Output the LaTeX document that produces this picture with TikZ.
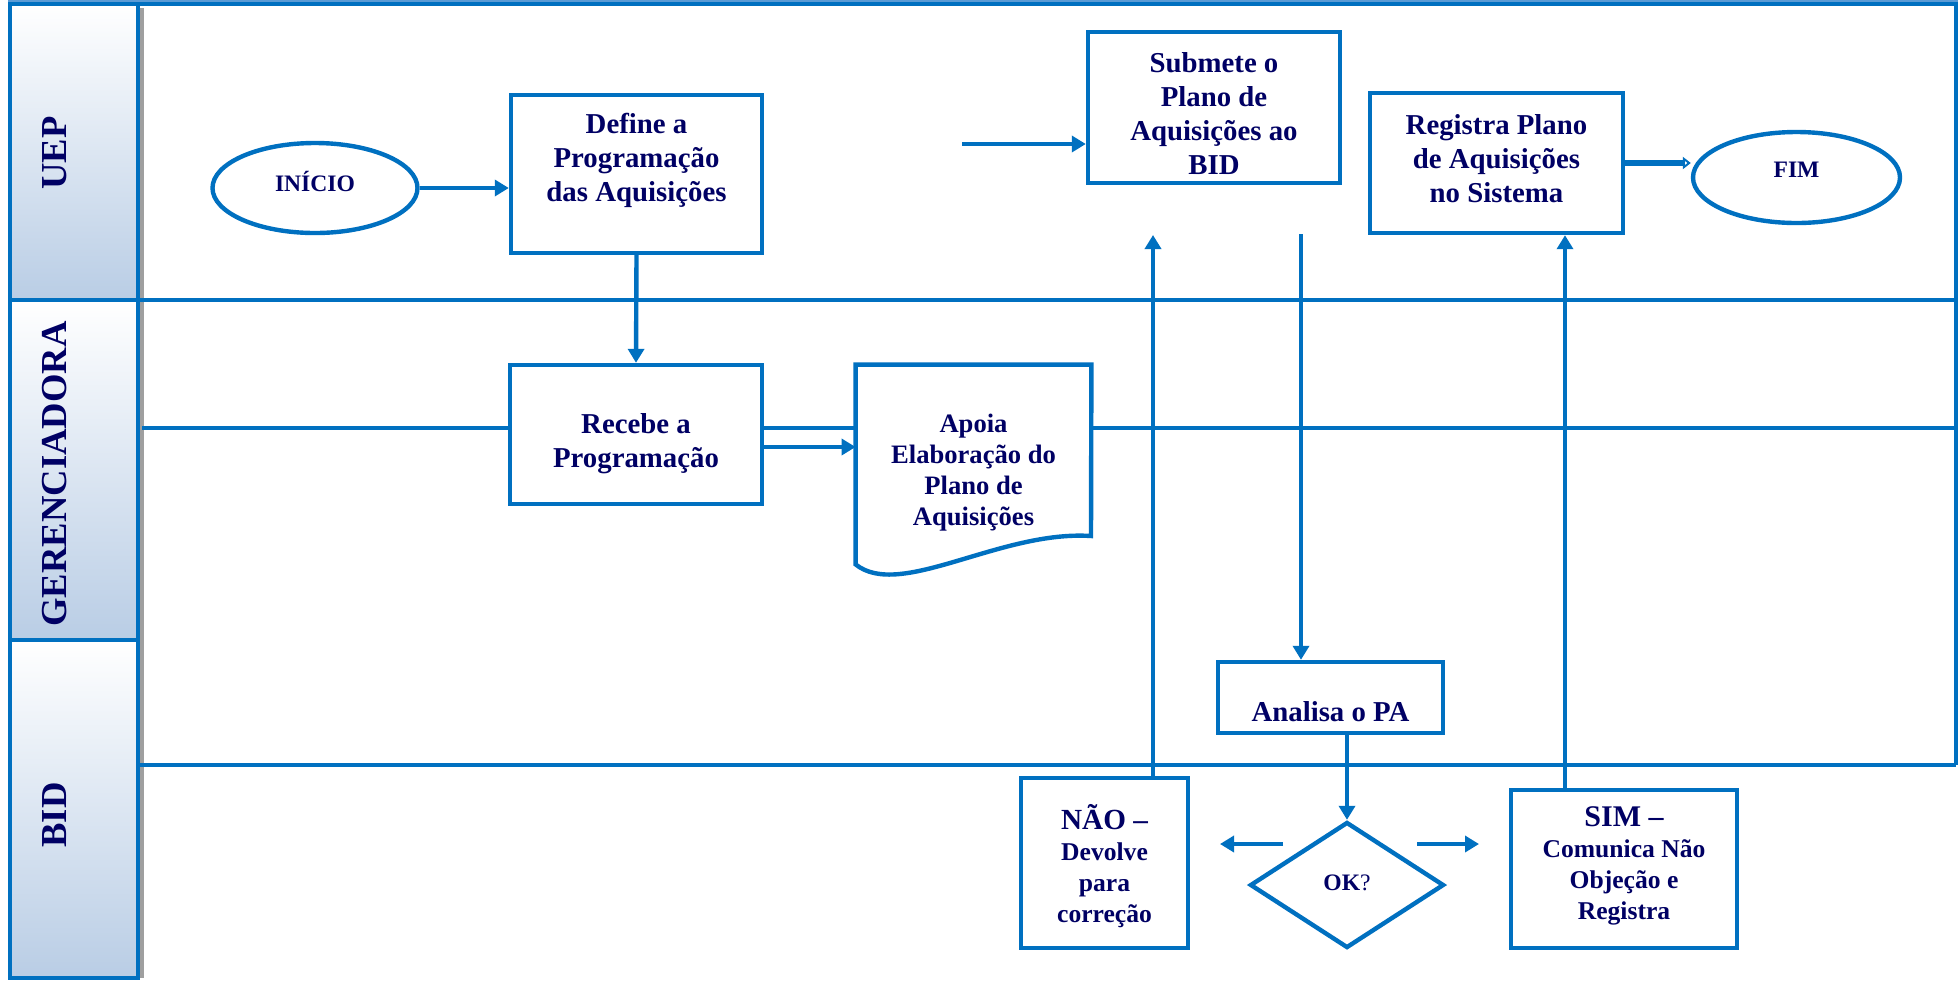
\documentclass[tikz,border=0pt]{standalone}
\usepackage{fontspec}
\setmainfont{Liberation Serif}
\usetikzlibrary{arrows.meta,shapes.geometric,calc}
\definecolor{lineblue}{RGB}{0,112,192}
\definecolor{navy}{RGB}{0,0,100}
\definecolor{lblblue}{RGB}{185,205,229}
\definecolor{topblue}{RGB}{91,155,213}
\begin{document}
\begin{tikzpicture}[x=0.5pt,y=-0.5pt,
  box/.style={draw=lineblue, line width=2.2pt, fill=white, rectangle, inner sep=0pt},
  oval/.style={draw=lineblue, line width=2.2pt, fill=white, ellipse, inner sep=0pt},
  txt/.style={text=navy, font=\bfseries\fontsize{14.4}{17}\selectfont, align=center, inner sep=0pt},
  smalltxt/.style={font=\bfseries\fontsize{11.8}{14}\selectfont},
  midtxt/.style={font=\bfseries\fontsize{12.8}{15.5}\selectfont},
  conn/.style={draw=lineblue, line width=2.2pt, -{Triangle[length=7pt,width=8pt]}},
  lane/.style={draw=lineblue, line width=2.2pt},
  lanebox/.style={draw=lineblue, line width=2.2pt, top color=white, bottom color=lblblue, minimum width=64pt, inner sep=0pt},
  lanetxt/.style={text=navy, font=\bfseries\fontsize{18.3}{20}\selectfont, rotate=90, inner sep=0pt}
]
\useasboundingbox (0,0) rectangle (1960,981);

% lane label boxes
\fill[gray!75] (139,8) rectangle (144,978);
\node[lanebox, minimum height=148pt] (uep) at (74,152) {};
\node[lanebox, minimum height=170pt] (ger) at (74,470) {};
\node[lanebox, minimum height=169pt] (bid) at (74,809) {};
\node[lanetxt] (uep-t) at (55,153) {UEP};
\node[lanetxt] (ger-t) at (55,474) {GERENCIADORA};
\node[lanetxt] (bid-t) at (55,815) {BID};

% lane frame
\draw[topblue, line width=1pt] (8,1) -- (1958,1);
\draw[lane] (8,4) -- (1956,4) -- (1956,765);
\draw[lane] (138,300) -- (1956,300);
\draw[lane] (138,765) -- (1956,765);

% nodes
\node[oval, minimum width=102.5pt, minimum height=45pt] (inicio) at (315,188) {};
\node[box, minimum width=125.5pt, minimum height=79pt] (define) at (636.5,174) {};
\node[box, minimum width=126pt, minimum height=69.5pt] (recebe) at (636,434.5) {};
\node[inner sep=0pt, minimum width=117.5pt, minimum height=99.5pt] (apoia) at (973.5,464.5) {};
\node[box, minimum width=126pt, minimum height=75.5pt] (submete) at (1214,107.5) {};
\node[box, minimum width=126.5pt, minimum height=70pt] (registra) at (1496.5,163) {};
\node[oval, minimum width=103.5pt, minimum height=45.5pt] (fim) at (1796.5,177.5) {};
\node[box, minimum width=112.5pt, minimum height=35.5pt] (analisa) at (1330.5,697.5) {};
\node[diamond, draw=lineblue, line width=2.2pt, fill=white, minimum width=97pt, minimum height=63pt, inner sep=0pt] (ok) at (1347,885) {};
\node[box, minimum width=83.5pt, minimum height=85pt] (nao) at (1104.5,863) {};
\node[box, minimum width=113pt, minimum height=79pt] (sim) at (1624,869) {};

% document shape
\draw[lineblue, line width=2.2pt, fill=white] (apoia.south west) -- (apoia.north west) -- (apoia.north east) -- (1091,536) .. controls (1000,530) and (900,600) .. (apoia.south west) -- cycle;

% gerenciadora middle line
\coordinate (gl) at (142,428);
\coordinate (gr) at (1956,428);
\draw[lane] (gl) -- (gl -| recebe.west);
\draw[lane] (gl -| recebe.east) -- (gl -| apoia.west);
\draw[lane] (gl -| apoia.east) -- (gr);

% texts
\node[txt, smalltxt] (inicio-t) at (315,181) {INÍCIO};
\node[txt] (define-t) at (636.5,160) {Define a\\Programação\\das Aquisições};
\node[txt] (recebe-t) at (636,444) {Recebe a\\Programação};
\node[txt, font=\bfseries\fontsize{13.3}{15.5}\selectfont] (apoia-t) at (973.5,473) {Apoia\\Elaboração do\\Plano de\\Aquisições};
\node[txt] (submete-t) at (1214,114) {Submete o\\Plano de\\Aquisições ao\\BID};
\node[txt] (registra-t) at (1496.5,159) {Registra Plano\\de Aquisições\\no Sistema};
\node[txt, smalltxt] (fim-t) at (1796.5,170) {FIM};
\node[txt] (analisa-t) at (1330.5,712) {Analisa o PA};
\node[txt, font=\fontsize{11.8}{14}\selectfont] (ok-t) at (1347,883) {\textbf{OK}?};
\node[txt, midtxt] (nao-t) at (1104.5,866) {{\fontsize{14.6}{17}\selectfont NÃO –}\\Devolve\\para\\correção};
\node[txt, midtxt] (sim-t) at (1624,866) {{\fontsize{15}{17}\selectfont SIM –}\\Comunica Não\\Objeção e\\Registra};

% connectors
\draw[conn] (inicio.east) -- (inicio.east -| define.west);
\draw[conn] (define.south) -- (recebe.north);
\coordinate (ra) at ($(recebe.east)+(0,12.5)$);
\draw[conn] (ra) -- (ra -| apoia.west);
\coordinate (inS) at (962,144);
\draw[conn] (inS) -- (inS -| submete.west);
\coordinate (dn) at (1301,234);
\draw[conn] (dn) -- (dn |- analisa.north);
\draw[conn] (analisa.south -| ok.north) -- (ok.north);
\coordinate (upN) at (1153,235);
\draw[conn] (nao.north -| upN) -- (upN);
\coordinate (simx) at (1565,0);
\draw[conn] (sim.north -| simx) -- (registra.south -| simx);
\draw[lineblue, line width=2.6pt, -{Triangle[open,length=4pt,width=6pt,line width=1pt]}] (registra.east) -- (registra.east -| fim.west);
\coordinate (la1) at (1283,844);
\coordinate (la2) at (1220,844);
\draw[conn] (la1) -- (la2);
\coordinate (ra1) at (1417,844);
\coordinate (ra2) at (1479,844);
\draw[conn] (ra1) -- (ra2);
\end{tikzpicture}
\end{document}
